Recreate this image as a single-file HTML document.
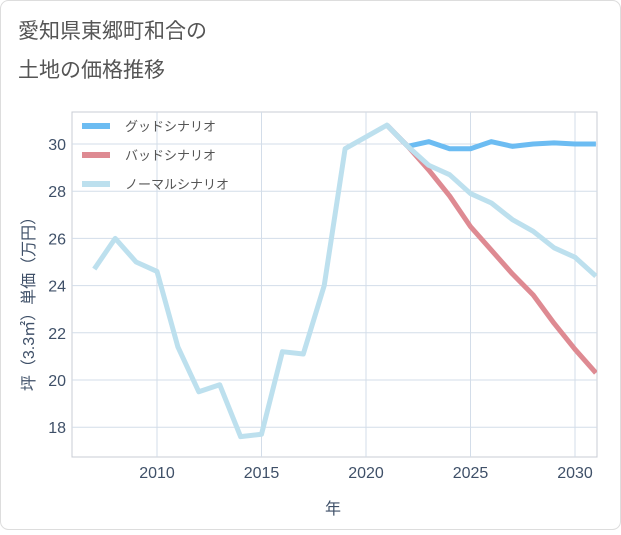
<!DOCTYPE html>
<html><head><meta charset="utf-8"><style>
body{margin:0;background:#fff;font-family:"Liberation Sans","Noto Sans CJK JP",sans-serif;}
#wrap{position:relative;width:621px;height:530px;}
</style></head><body>
<div id="wrap">
<svg id="chart" width="621" height="530">
<rect x="0.5" y="0.5" width="620" height="529" rx="8" fill="#fff" stroke="#ddd"/>
<text x="18" y="38" font-size="21" fill="#555">愛知県東郷町和合の</text>
<text x="18" y="77" font-size="21" fill="#555">土地の価格推移</text>
<g id="grid"></g>
<g id="lines"></g>
<g id="legend"></g>
<text x="0" y="0" transform="translate(34,300) rotate(-90)" font-size="16" fill="#3f5068" text-anchor="middle">坪（3.3㎡）単価（万円）</text>
<text x="333" y="514" font-size="16" fill="#3f5068" text-anchor="middle">年</text>
</svg></div>
<script>
const years=[2007,2008,2009,2010,2011,2012,2013,2014,2015,2016,2017,2018,2019,2020,2021,2022,2023,2024,2025,2026,2027,2028,2029,2030,2031];
const normal=[24.7,26.0,25.0,24.6,21.4,19.5,19.8,17.6,17.7,21.2,21.1,24.0,29.8,30.3,30.8,29.9,29.1,28.7,27.9,27.5,26.8,26.3,25.6,25.2,24.4];
const goodYears=[2021,2022,2023,2024,2025,2026,2027,2028,2029,2030,2031];
const good=[30.8,29.9,30.1,29.8,29.8,30.1,29.9,30.0,30.05,30.0,30.0];
const badYears=[2021,2022,2023,2024,2025,2026,2027,2028,2029,2030,2031];
const bad=[30.8,29.9,28.9,27.8,26.5,25.5,24.5,23.6,22.4,21.3,20.3];
const xTicks=[2010,2015,2020,2025,2030];
const yTicks=[18,20,22,24,26,28,30];
const L=72,R=597,T=112,B=457;
const x=v=>157+(v-2010)*20.9;
const y=v=>144+(30-v)*23.6;
const NS="http://www.w3.org/2000/svg";
function mk(t,a,p){const e=document.createElementNS(NS,t);for(const k in a)e.setAttribute(k,a[k]);p.appendChild(e);return e;}
const svg=document.getElementById('chart');
const defs=mk('defs',{},svg);
const cp=mk('clipPath',{id:'cp'},defs);mk('rect',{x:L,y:T,width:R-L,height:B-T},cp);
const g=document.getElementById('grid');
mk('rect',{x:L,y:T,width:R-L,height:B-T,fill:'none',stroke:'#c8ccd4'},g);
yTicks.forEach(v=>{const l=mk('line',{x1:L,x2:R,y1:y(v),y2:y(v),stroke:'#d3dde9'},g);

const t=mk('text',{x:L-6,y:y(v)+6,'text-anchor':'end','font-size':16,fill:'#3f5068'},g);t.textContent=v;
});
xTicks.forEach(v=>{const l=mk('line',{x1:x(v),x2:x(v),y1:T,y2:B,stroke:'#d3dde9'},g);

const t=mk('text',{x:x(v),y:B+21,'text-anchor':'middle','font-size':16,fill:'#3f5068'},g);t.textContent=v;
});
const lg=document.getElementById('lines');lg.setAttribute('clip-path','url(#cp)');
function line(xs,vs,c,n){const p=mk('polyline',{points:xs.map((a,i)=>x(a)+','+y(vs[i])).join(' '),fill:'none',stroke:c,'stroke-width':5,'stroke-linejoin':'round'},lg);
}
line(goodYears,good,'#6cbcf2','good-scenario-line');
line(badYears,bad,'#de8a92','bad-scenario-line');
line(years,normal,'#bde0ee','normal-scenario-line');
const leg=document.getElementById('legend');
[['グッドシナリオ','#6cbcf2'],['バッドシナリオ','#de8a92'],['ノーマルシナリオ','#bde0ee']].forEach((d,i)=>{
const gy=126+i*29;
const r=mk('rect',{x:82,y:gy-3,width:28,height:6,fill:d[1]},leg);

const t=mk('text',{x:125,y:gy+5,'font-size':13,fill:'#555'},leg);t.textContent=d[0];
});
</script></body></html>
